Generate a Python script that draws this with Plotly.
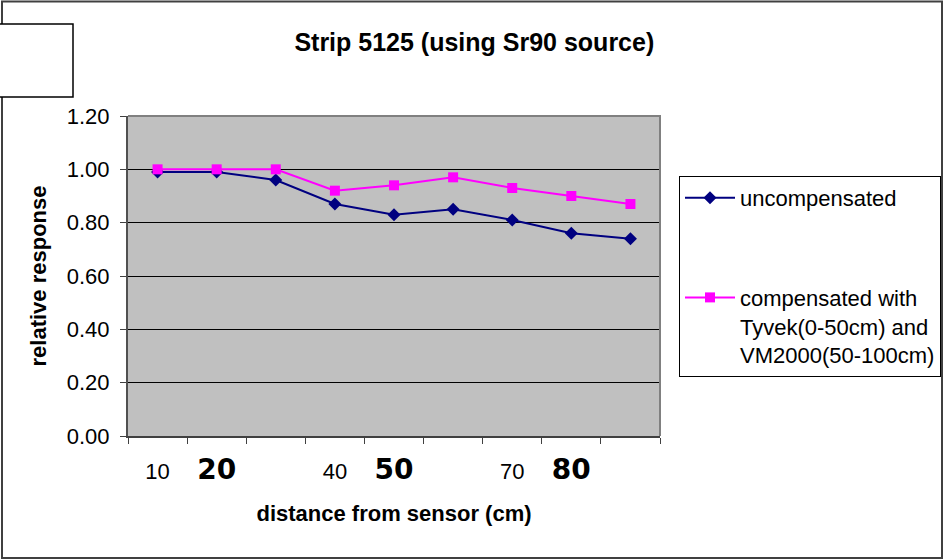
import plotly.graph_objects as go

# distance of the source from the sensor (cm)
distances = [10, 20, 30, 40, 50, 60, 70, 80, 90]
# tick labels shown under each distance (blank where nothing is printed)
tick_labels = ["10", "20", "", "40", "50", "", "70", "80", ""]
emphasised = {"20", "50", "80"}

uncompensated = [0.99, 0.99, 0.96, 0.87, 0.83, 0.85, 0.81, 0.76, 0.74]
compensated = [1.00, 1.00, 1.00, 0.92, 0.94, 0.97, 0.93, 0.90, 0.87]

W, H = 943, 560
ML, MR, MT, MB = 128, 283, 116, 124
PW, PH = W - ML - MR, H - MT - MB


def px_x(p):
    return (p - ML) / PW


def px_y(p):
    return (H - MB - p) / PH


FONT = "Liberation Sans, Arial, sans-serif"

idx = list(range(len(distances)))
ticktext = [
    f"<span style='font-family:DejaVu Sans;font-weight:bold;font-size:28px'>{t}</span>"
    if t in emphasised else t
    for t in tick_labels
]

fig = go.Figure()
fig.add_trace(go.Scatter(
    x=idx, y=uncompensated, name="uncompensated", mode="lines+markers",
    line=dict(color="#000080", width=2),
    marker=dict(symbol="diamond", size=10, color="#000080"),
    legendgroup="a",
))
fig.add_trace(go.Scatter(
    x=idx, y=compensated,
    name="compensated with<br>Tyvek(0-50cm) and<br>VM2000(50-100cm)",
    mode="lines+markers",
    line=dict(color="#FF00FF", width=2),
    marker=dict(symbol="square", size=10, color="#FF00FF"),
    legendgroup="b",
))

fig.update_layout(
    width=W, height=H,
    margin=dict(l=ML, r=MR, t=MT, b=MB, autoexpand=False),
    paper_bgcolor="white", plot_bgcolor="#C0C0C0",
    font=dict(family=FONT, size=22, color="black"),
    title=dict(text="<b>Strip 5125 (using Sr90 source)</b>", x=0.503, xref="container",
               y=1 - 42 / H, yref="container", yanchor="middle",
               font=dict(size=25, family=FONT)),
    showlegend=True,
    legend=dict(x=px_x(679), y=px_y(176), xanchor="left", yanchor="top",
                bgcolor="white", bordercolor="black", borderwidth=1,
                font=dict(size=22, family=FONT), valign="top",
                tracegroupgap=68, itemwidth=50),
    xaxis=dict(range=[-0.5, len(distances) - 0.5], tickvals=idx, ticktext=ticktext,
               ticks="", showgrid=False, zeroline=False,
               showline=True, linecolor="#404040", linewidth=2,
               minor=dict(tickvals=[i - 0.5 for i in range(len(distances) + 1)],
                          ticks="outside", ticklen=6, tickcolor="#404040", showgrid=False),
               ticklabelstandoff=15,
               title=dict(text="<b>distance from sensor (cm)</b>", standoff=20,
                          font=dict(size=22))),
    yaxis=dict(range=[0, 1.2], dtick=0.2, tickformat=".2f",
               ticks="outside", ticklen=6, tickcolor="#404040",
               showgrid=True, gridcolor="black", gridwidth=1, zeroline=False,
               showline=True, linecolor="#505050", linewidth=2,
               ticklabelstandoff=6,
               title=dict(text="<b>relative response</b>", standoff=14,
                          font=dict(size=22))),
    shapes=[
        # top and right edges of the plot area
        dict(type="path", xref="paper", yref="paper",
             path="M 0,1 L 1,1 L 1,0", line=dict(color="#808080", width=2)),
        # outer frame of the chart
        dict(type="rect", xref="paper", yref="paper",
             x0=px_x(2), x1=px_x(942), y0=px_y(558), y1=px_y(1.5),
             line=dict(color="#404040", width=2)),
        # empty text box in the upper left corner
        dict(type="rect", xref="paper", yref="paper",
             x0=px_x(-3), x1=px_x(73), y0=px_y(97), y1=px_y(24),
             fillcolor="white", line=dict(color="black", width=1.5)),
    ],
)

fig.write_html("out.html")
